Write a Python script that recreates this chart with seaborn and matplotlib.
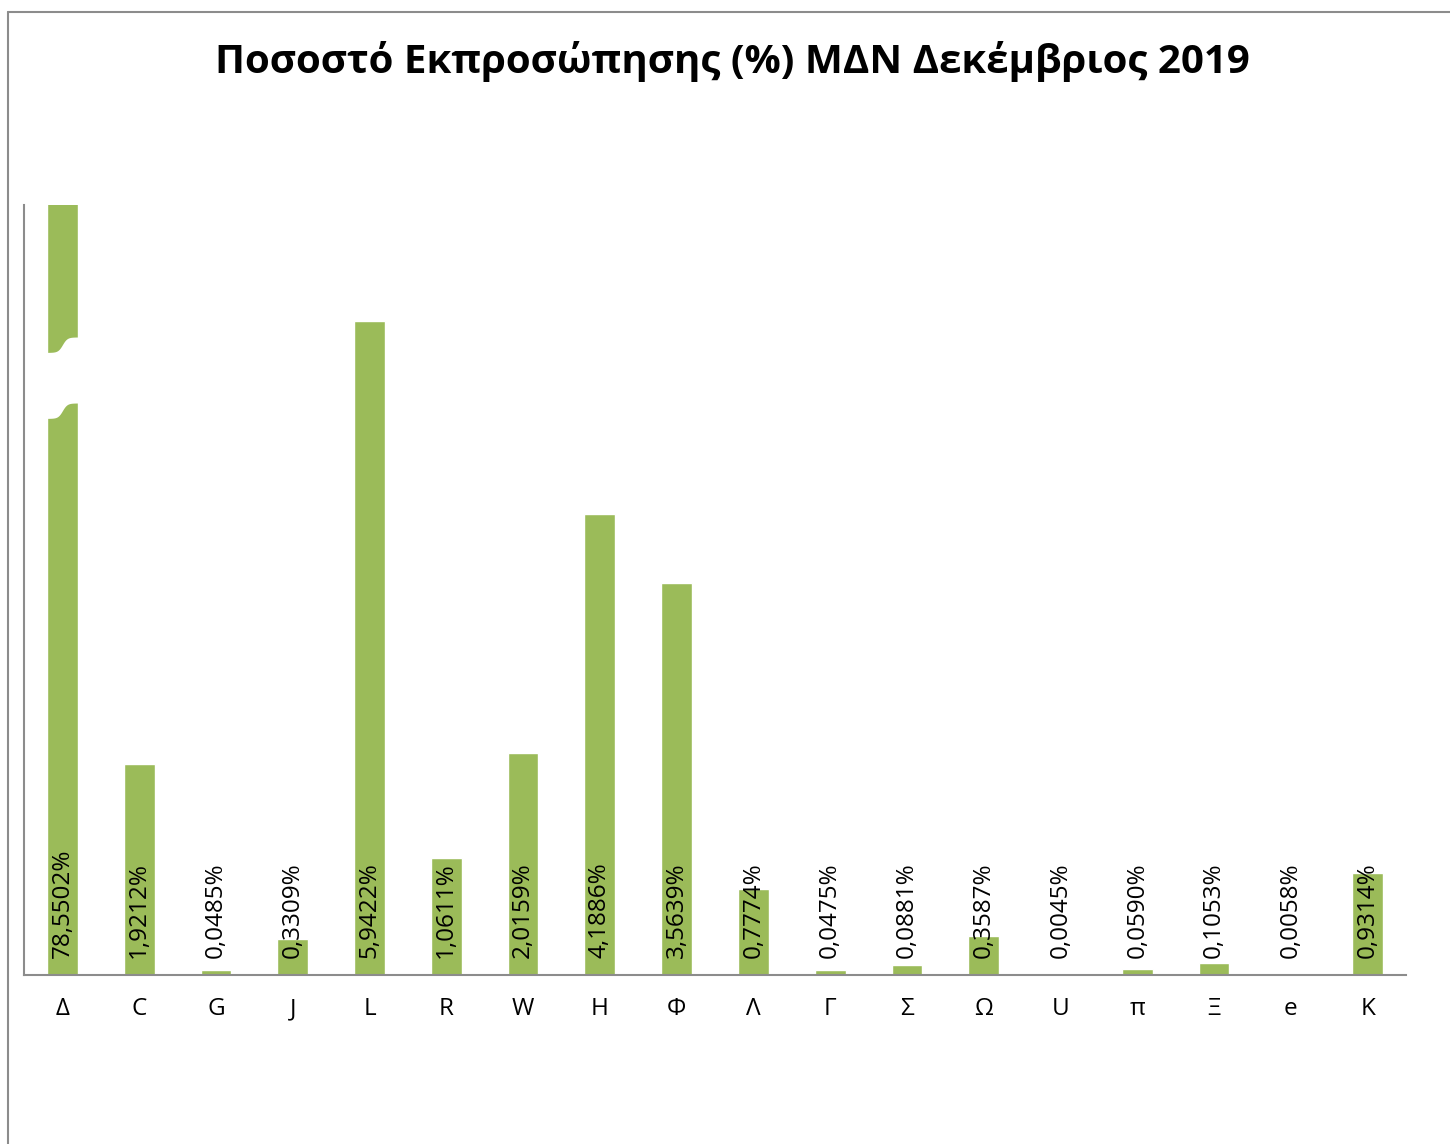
import numpy as np
import pandas as pd
import seaborn as sns
import matplotlib.pyplot as plt
from matplotlib.lines import Line2D

# datos
categorias = ["Δ", "C", "G", "J", "L", "R", "W", "H", "Φ", "Λ", "Γ", "Σ", "Ω", "U", "π", "Ξ", "e", "K"]
porcentajes = [78.5502, 1.9212, 0.0485, 0.3309, 5.9422, 1.0611, 2.0159, 4.1886, 3.5639,
               0.7774, 0.0475, 0.0881, 0.3587, 0.0045, 0.0590, 0.1053, 0.0058, 0.9314]
titulo = "Ποσοστό Εκπροσώπησης (%) ΜΔΝ Δεκέμβριος 2019"

df = pd.DataFrame({"cat": categorias, "pct": porcentajes})

sns.set_theme(style="white")
plt.rcParams["font.family"] = ["Open Sans", "DejaVu Sans"]

fig = plt.figure(figsize=(14.5, 11.44), dpi=100)
ax = fig.add_axes([24 / 1450, 1 - 975 / 1144, (1406 - 24) / 1450, (975 - 205) / 1144])

sns.barplot(data=df, x="cat", y="pct", color="#9BBB59", width=0.4, saturation=1, ax=ax)
ax.set_ylim(0, 7.0)
ax.set_xlim(-0.5, len(categorias) - 0.5)

# etiquetas de valor
for i, v in enumerate(porcentajes):
    txt = f"{v:.4f}".replace(".", ",") + "%"
    ax.annotate(txt, (i, 0), xytext=(0, 12), textcoords="offset points",
                rotation=90, ha="center", va="bottom", fontsize=17.5, color="black")

# marca de corte en la primera barra
t = np.linspace(-0.45, 0.4, 80)
curva = 0.14 * (1 + np.tanh(t / 0.06)) / 2
ax.fill_between(t, 5.06 + curva, 5.66 + curva, color="white", zorder=5, lw=0)

ax.set_yticks([])
ax.set_xlabel("")
ax.set_ylabel("")
ax.tick_params(axis="x", length=0, labelsize=17.5, pad=16, labelcolor="black")
for s in ["top", "right"]:
    ax.spines[s].set_visible(False)
for s in ["left", "bottom"]:
    ax.spines[s].set_color("#8c8c8c")
    ax.spines[s].set_linewidth(1.5)

fig.text(732 / 1450, 1 - 62 / 1144, titulo, ha="center", va="center",
         fontsize=29, fontweight="bold", color="black")

# marco del grafico
fig.add_artist(Line2D([8 / 1450, 8 / 1450], [0, 1 - 12 / 1144], color="#8c8c8c", lw=1.5))
fig.add_artist(Line2D([8 / 1450, 1], [1 - 12 / 1144, 1 - 12 / 1144], color="#8c8c8c", lw=1.5))

fig.savefig("out.png", dpi=100, facecolor="white")
